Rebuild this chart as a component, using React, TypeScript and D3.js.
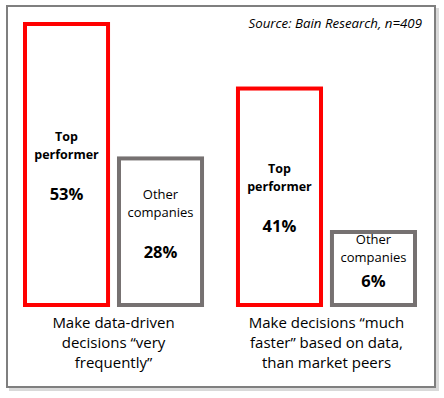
import React from "react";
import * as d3 from "d3";

const groups = ["g1", "g2"];
const groupLabels = [
  ["Make data-driven", "decisions \u201cvery", "frequently\u201d"],
  ["Make decisions \u201cmuch", "faster\u201d based on data,", "than market peers"],
];
const series = ["Top performer", "Other companies"];
const values = [
  [53, 28],
  [41, 6],
];
const sourceNote = "Source: Bain Research, n=409";

const W = 444;
const H = 398;
const baseline = 307;
const minBar = 77; // small bars keep room for their label

const seriesStyle = [
  { stroke: "#ff0000", bold: true, size: 12.5, lines: ["Top", "performer"], shift: 0 },
  { stroke: "#767171", bold: false, size: 13, lines: ["Other", "companies"], shift: -9 },
];

export default function App() {
  const x0 = d3.scaleBand().domain(groups).range([23, 417]).paddingInner(0.15);
  const x1 = d3.scaleBand().domain(series).range([0, x0.bandwidth()]).paddingInner(0.074);
  const y = d3.scaleLinear().domain([0, 53]).range([baseline, 22]);
  const font = "'Open Sans', sans-serif";

  return (
    <svg width={W} height={H} style={{ position: "absolute", left: 0, top: 0, display: "block" }}>
      <rect x={0} y={0} width={W} height={H} fill="#fff" />
      <rect x={9} y={8} width={430} height={383} fill="#d9d9d9" />
      <rect x={7} y={6} width={428} height={381} fill="#fff" stroke="#7f7f7f" strokeWidth={2} />
      <text x={422} y={28} textAnchor="end" fontFamily={font} fontStyle="italic" fontSize={13.3} fill="#000">
        {sourceNote}
      </text>
      {groups.map((g, gi) => {
        const gx = x0(g)!;
        return (
          <g key={g}>
            {series.map((s, si) => {
              const v = values[gi][si];
              const top = Math.min(y(v), baseline - minBar);
              const bx = gx + x1(s)!;
              const bw = x1.bandwidth();
              const st = seriesStyle[si];
              const cx = bx + bw / 2;
              const h = baseline - top;
              const gap = Math.min(39, h * 0.3);
              const blockH = 18 + gap;
              const firstY = top + h / 2 + st.shift - blockH / 2;
              return (
                <g key={s}>
                  <rect x={bx + 2} y={top + 2} width={bw - 4} height={h - 4} fill="#fff" stroke={st.stroke} strokeWidth={4} />
                  {st.lines.map((l, li) => (
                    <text
                      key={l}
                      x={cx}
                      y={firstY + li * 18}
                      textAnchor="middle"
                      dominantBaseline="central"
                      fontFamily={font}
                      fontWeight={st.bold ? 700 : 400}
                      fontSize={st.size}
                      fill="#000"
                    >
                      {l}
                    </text>
                  ))}
                  <text
                    x={cx}
                    y={firstY + blockH}
                    textAnchor="middle"
                    dominantBaseline="central"
                    fontFamily={font}
                    fontWeight={700}
                    fontSize={16.5}
                    fill="#000"
                  >
                    {v + "%"}
                  </text>
                </g>
              );
            })}
            {groupLabels[gi].map((l, li) => (
              <text
                key={l}
                x={gx + x0.bandwidth() / 2}
                y={322 + li * 20}
                textAnchor="middle"
                dominantBaseline="central"
                fontFamily={font}
                fontSize={15}
                fill="#000"
              >
                {l}
              </text>
            ))}
          </g>
        );
      })}
    </svg>
  );
}
